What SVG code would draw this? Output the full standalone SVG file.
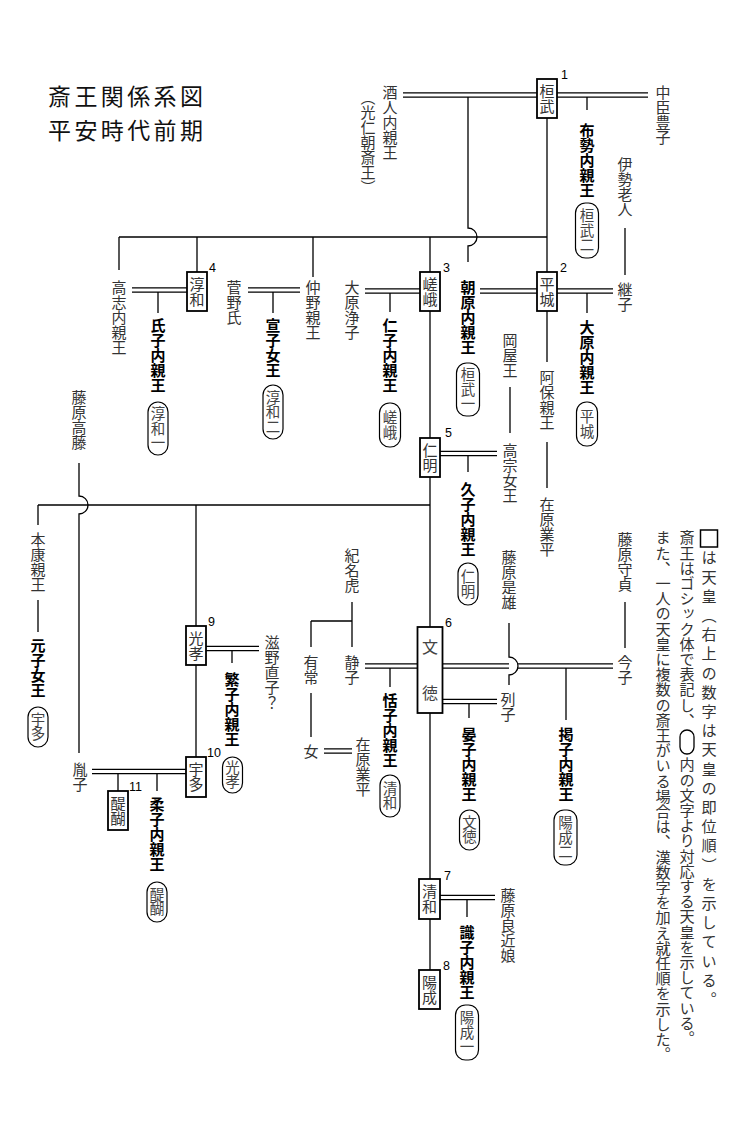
<svg xmlns="http://www.w3.org/2000/svg" width="756" height="1134" viewBox="0 0 756 1134">
<style>
.v{writing-mode:vertical-rl;font-family:"Noto Sans CJK JP","Noto Sans CJK SC",sans-serif;font-size:15px;fill:#333}
.b{font-weight:bold;fill:#000}
.lt{font-size:14.5px;fill:#444}
.h{font-family:"Noto Sans CJK JP","Noto Sans CJK SC",sans-serif;fill:#444}
.ln{stroke:#000;stroke-width:1.3;fill:none}
.dl{stroke:#000;stroke-width:1.3;fill:none}
.box{fill:#fff;stroke:#000;stroke-width:1.8}
.lab{fill:#fff;stroke:#000;stroke-width:1.2}
.num{font-family:"Liberation Sans",Arial,sans-serif;font-size:12.5px;fill:#000}
.title{font-family:"Noto Sans CJK JP","Noto Sans CJK SC",sans-serif;font-size:23px;letter-spacing:3.4px;fill:#111}
.lg{writing-mode:vertical-rl;font-family:"Noto Sans CJK JP","Noto Sans CJK SC",sans-serif;font-size:15.2px;fill:#333}
</style>
<rect width="756" height="1134" fill="#fff"/>
<g id="title">
<text class="title" x="48" y="105">斎王関係系図</text>
<text class="title" x="48" y="139">平安時代前期</text>
</g>
<g id="connectors">
<path class="dl" d="M403,92.8H648M403,97.2H648"/>
<path class="dl" d="M132,287.8H187M132,292.2H187"/>
<path class="dl" d="M248,287.8H300M248,292.2H300"/>
<path class="dl" d="M365,288.8H420M365,293.2H420"/>
<path class="dl" d="M480,288.8H613M480,293.2H613"/>
<path class="dl" d="M439,451.3H497M439,455.7H497"/>
<path class="dl" d="M365,663.8H509M365,668.2H509M518,663.8H613M518,668.2H613"/>
<path class="dl" d="M442,699.3H497M442,703.7H497"/>
<path class="dl" d="M324,748.8H352M324,753.2H352"/>
<path class="dl" d="M206,646.3H259M206,650.7H259"/>
<path class="dl" d="M92,769.3H186M92,773.7H186"/>
<path class="dl" d="M439,895.3H495M439,899.7H495"/>
<path class="ln" d="M468,97V228A9,9 0 0 1 468,246V262"/>
<path class="ln" d="M119,237H547"/>
<path class="ln" d="M547,118V272"/>
<path class="ln" d="M119,237V270M197,237V272M313,237V277"/>
<path class="ln" d="M430,237V272M430,311V438M430,477V627M430,713V879M430,919V970"/>
<path class="ln" d="M587,97V110"/>
<path class="ln" d="M625,228V275"/>
<path class="ln" d="M158,292V313M273,292V313M390,293V312M587,293V313"/>
<path class="ln" d="M547,311V362M547,442V488"/>
<path class="ln" d="M510,387V433"/>
<path class="ln" d="M468,456V472"/>
<path class="ln" d="M38,505H430"/>
<path class="ln" d="M79,463V496A9,9 0 0 1 79,514V753"/>
<path class="ln" d="M38,505V525M38,600V632"/>
<path class="ln" d="M196,505V626M196,665V757"/>
<path class="ln" d="M232,651V663"/>
<path class="ln" d="M118,774V791M157,774V791"/>
<path class="ln" d="M352,602V647M311,621H352M311,621V647M311,693V737"/>
<path class="ln" d="M390,668V687"/>
<path class="ln" d="M509,623V657A9,9 0 0 1 509,675V685"/>
<path class="ln" d="M469,704V718"/>
<path class="ln" d="M566,668V720"/>
<path class="ln" d="M625,602V648"/>
<path class="ln" d="M467,900V917"/>
</g>
<g id="n-kanmu"><rect class="box" x="537" y="79" width="20" height="39"/><text class="v" x="547" y="83.5">桓武</text><text class="num" x="561" y="79">1</text></g>
<g id="n-heizei"><rect class="box" x="537" y="272" width="20" height="39"/><text class="v" x="547" y="276.5">平城</text><text class="num" x="560" y="272">2</text></g>
<g id="n-saga"><rect class="box" x="420" y="272" width="20" height="39"/><text class="v" x="430" y="276.5">嵯峨</text><text class="num" x="443" y="272">3</text></g>
<g id="n-junna"><rect class="box" x="187" y="272" width="20" height="39"/><text class="v" x="197" y="276.5">淳和</text><text class="num" x="209" y="272">4</text></g>
<g id="n-ninmyo"><rect class="box" x="420" y="438" width="20" height="39"/><text class="v" x="430" y="442.5">仁明</text><text class="num" x="445" y="437">5</text></g>
<g id="n-montoku"><rect class="box" x="417.5" y="627" width="25" height="86"/><text class="h" x="430" y="653" font-size="16" text-anchor="middle">文</text><text class="h" x="430" y="699" font-size="16" text-anchor="middle">徳</text><text class="num" x="445" y="627">6</text></g>
<g id="n-seiwa"><rect class="box" x="419" y="879" width="21" height="40"/><text class="v" x="429.5" y="884">清和</text><text class="num" x="444" y="880">7</text></g>
<g id="n-yozei"><rect class="box" x="419" y="970" width="21" height="39"/><text class="v" x="429.5" y="974.5">陽成</text><text class="num" x="443" y="970">8</text></g>
<g id="n-koko"><rect class="box" x="186" y="626" width="20" height="39"/><text class="v" x="196" y="630.5">光孝</text><text class="num" x="208" y="626">9</text></g>
<g id="n-uda"><rect class="box" x="186" y="757" width="20" height="40"/><text class="v" x="196" y="762">宇多</text><text class="num" x="207" y="757">10</text></g>
<g id="n-daigo"><rect class="box" x="108" y="791" width="20" height="39"/><text class="v" x="118" y="795.5">醍醐</text><text class="num" x="129" y="791">11</text></g>
<g id="n-sakahito"><text class="v" x="390" y="85">酒人内親王</text><text class="v" x="368" y="90">（光仁朝斎王）</text></g>
<g id="n-nakatomi"><text class="v" x="663" y="85">中臣豊子</text></g>
<g id="n-fuse"><text class="v b" x="587" y="123">布勢内親王</text><rect class="lab" x="575.5" y="203" width="23" height="55" rx="10" ry="10"/><text class="v lt" x="587" y="208.5">桓武二</text></g>
<g id="n-iseoi"><text class="v" x="625" y="157">伊勢老人</text></g>
<g id="n-tsuguko"><text class="v" x="625" y="282">継子</text></g>
<g id="n-koshi"><text class="v" x="119" y="280">高志内親王</text></g>
<g id="n-ujiko"><text class="v b" x="158" y="318">氏子内親王</text><rect class="lab" x="148" y="402" width="20" height="53" rx="10" ry="10"/><text class="v lt" x="158" y="406.5">淳和一</text></g>
<g id="n-sugano"><text class="v" x="234" y="280">菅野氏</text></g>
<g id="n-nobuko"><text class="v b" x="273" y="318">宣子女王</text><rect class="lab" x="263" y="385" width="20" height="54" rx="10" ry="10"/><text class="v lt" x="273" y="390">淳和二</text></g>
<g id="n-nakano"><text class="v" x="313" y="280">仲野親王</text></g>
<g id="n-kiyoko"><text class="v" x="352" y="280">大原浄子</text></g>
<g id="n-hitoko"><text class="v b" x="390" y="318">仁子内親王</text><rect class="lab" x="379.5" y="403" width="21" height="44" rx="10" ry="10"/><text class="v lt" x="390" y="410.5">嵯峨</text></g>
<g id="n-asahara"><text class="v b" x="468" y="280">朝原内親王</text><rect class="lab" x="456.5" y="363" width="23" height="53" rx="10" ry="10"/><text class="v lt" x="468" y="367.5">桓武一</text></g>
<g id="n-okaya"><text class="v" x="510" y="333">岡屋王</text></g>
<g id="n-takamune"><text class="v" x="510" y="443">高宗女王</text></g>
<g id="n-ohara"><text class="v b" x="587" y="320">大原内親王</text><rect class="lab" x="576.5" y="402" width="21" height="44" rx="10" ry="10"/><text class="v lt" x="587" y="409.5">平城</text></g>
<g id="n-abo"><text class="v" x="547" y="370">阿保親王</text></g>
<g id="n-narihira1"><text class="v" x="547" y="497">在原業平</text></g>
<g id="n-hisako"><text class="v b" x="468" y="482">久子内親王</text><rect class="lab" x="458" y="563" width="20" height="42" rx="10" ry="10"/><text class="v lt" x="468" y="569.5">仁明</text></g>
<g id="n-takafuji"><text class="v" x="79" y="390">藤原高藤</text></g>
<g id="n-taneko"><text class="v" x="80" y="762">胤子</text></g>
<g id="n-motoyasu"><text class="v" x="38" y="532">本康親王</text></g>
<g id="n-motoko"><text class="v b" x="38" y="638">元子女王</text><rect class="lab" x="28" y="707" width="20" height="40" rx="10" ry="10"/><text class="v lt" x="38" y="712">宇多</text></g>
<g id="n-shigeno"><text class="v" x="272" y="635">滋野直子？</text></g>
<g id="n-shigeko"><text class="v b" x="232" y="672">繁子内親王</text><rect class="lab" x="222.5" y="757" width="20" height="36" rx="10" ry="10"/><text class="v lt" x="232.5" y="760">光孝</text></g>
<g id="n-yasuko"><text class="v b" x="157" y="797">柔子内親王</text><rect class="lab" x="147" y="882" width="20" height="40" rx="10" ry="10"/><text class="v lt" x="157" y="887">醍醐</text></g>
<g id="n-kinonatora"><text class="v" x="352" y="548">紀名虎</text></g>
<g id="n-shizuko"><text class="v" x="352" y="655">静子</text></g>
<g id="n-aritsune"><text class="v" x="311" y="655">有常</text></g>
<g id="n-onna"><text class="v" x="311" y="744">女</text></g>
<g id="n-narihira2"><text class="v" x="363" y="737">在原業平</text></g>
<g id="n-yasuko2"><text class="v b" x="390" y="693">恬子内親王</text><rect class="lab" x="380" y="775" width="20" height="42" rx="10" ry="10"/><text class="v lt" x="390" y="781">清和</text></g>
<g id="n-korekatsu"><text class="v" x="509" y="550">藤原是雄</text></g>
<g id="n-tsurako"><text class="v" x="508" y="692">列子</text></g>
<g id="n-akiko"><text class="v b" x="469" y="727">晏子内親王</text><rect class="lab" x="459.5" y="810" width="20" height="40" rx="10" ry="10"/><text class="v lt" x="469.5" y="815">文徳</text></g>
<g id="n-morisada"><text class="v" x="625" y="532">藤原守貞</text></g>
<g id="n-imako"><text class="v" x="625" y="655">今子</text></g>
<g id="n-kakako"><text class="v b" x="566" y="727">掲子内親王</text><rect class="lab" x="554" y="810" width="23" height="55" rx="10" ry="10"/><text class="v lt" x="565.5" y="815.5">陽成二</text></g>
<g id="n-yoshichika"><text class="v" x="508" y="888">藤原良近娘</text></g>
<g id="n-shikiko"><text class="v b" x="467" y="925">識子内親王</text><rect class="lab" x="455.5" y="1005" width="23" height="55" rx="10" ry="10"/><text class="v lt" x="467" y="1010.5">陽成一</text></g>
<g id="legend">
<rect x="700.5" y="530" width="17" height="17" fill="#fff" stroke="#000" stroke-width="1.5"/>
<text class="lg" x="709" y="550" letter-spacing="4">は天皇（右上の数字は天皇の即位順）を示している。</text>
<text class="lg" x="687" y="530">斎王はゴシック体で表記し、</text>
<rect x="680" y="730" width="14" height="24" rx="7" ry="7" fill="#fff" stroke="#000" stroke-width="1.3"/>
<text class="lg" x="687" y="757">内の文字より対応する天皇を示している。</text>
<text class="lg" x="663" y="530">また、一人の天皇に複数の斎王がいる場合は、漢数字を加え就任順を示した。</text>
</g>
</svg>
